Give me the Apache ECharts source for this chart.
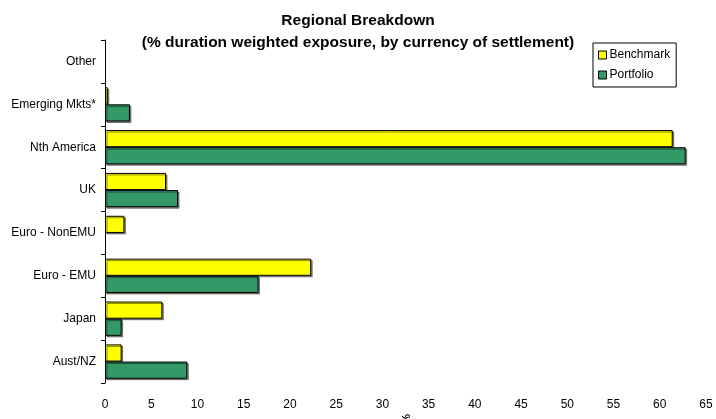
<!DOCTYPE html>
<html>
<head>
<meta charset="utf-8">
<script src="https://cdn.jsdelivr.net/npm/echarts@6/dist/echarts.min.js"></script>
<style>html,body{margin:0;padding:0;background:#fff}#c{width:716px;height:419px}</style>
</head>
<body>
<div id="c"></div>
<script>
// Categories listed top to bottom; null = no exposure (no bar drawn)
const categories = ["Other", "Emerging Mkts*", "Nth America", "UK", "Euro - NonEMU", "Euro - EMU", "Japan", "Aust/NZ"];
const benchmark = [null, 0.3, 61.4, 6.6, 2.1, 22.3, 6.2, 1.8];
const portfolio = [null, 2.7, 62.8, 7.9, null, 16.6, 1.8, 8.9];
const xTicks = { min: 0, max: 65, interval: 5 };

const chart = echarts.init(document.getElementById('c'));
const font = 'Liberation Sans, Arial, sans-serif';
const barStyle = (color) => ({
  color: color,
  borderColor: '#000',
  borderWidth: 1,
  shadowColor: 'rgba(0,0,0,0.45)',
  shadowOffsetX: 1.5,
  shadowOffsetY: 1.5,
  shadowBlur: 0
});
chart.setOption({
  animation: false,
  textStyle: { fontFamily: font },
  title: {
    text: 'Regional Breakdown\n(% duration weighted exposure, by currency of settlement)',
    left: 'center',
    top: 5,
    textStyle: { fontFamily: font, fontSize: 15.5, fontWeight: 'bold', color: '#000', lineHeight: 22 }
  },
  legend: {
    orient: 'vertical',
    left: 593,
    top: 43,
    data: ['Benchmark', 'Portfolio'],
    icon: 'rect',
    itemWidth: 8,
    itemHeight: 8,
    itemGap: 8,
    padding: [6, 6, 6, 5],
    borderColor: '#000',
    borderWidth: 1,
    backgroundColor: '#fff',
    textStyle: { fontFamily: font, fontSize: 12, color: '#000', padding: [0, 0, 0, -2] },
    itemStyle: { borderColor: '#000', borderWidth: 1 }
  },
  grid: { left: 105, right: 10, top: 40, bottom: 36, containLabel: false, outerBoundsMode: 'none' },
  xAxis: {
    type: 'value',
    min: xTicks.min,
    max: xTicks.max,
    interval: xTicks.interval,
    name: '%',
    nameLocation: 'middle',
    nameGap: 25,
    nameRotate: -90,
    nameTextStyle: { fontFamily: font, fontSize: 11, fontWeight: 'bold', color: '#000' },
    axisLine: { show: false },
    axisTick: { show: false },
    splitLine: { show: false },
    axisLabel: { fontFamily: font, fontSize: 12, color: '#000', margin: 16 }
  },
  yAxis: {
    type: 'category',
    inverse: true,
    data: categories,
    axisLine: { show: true, lineStyle: { color: '#000', width: 1 } },
    axisTick: { show: true, length: 4, lineStyle: { color: '#000' } },
    axisLabel: { fontFamily: font, fontSize: 12, color: '#000', margin: 9 }
  },
  series: [
    { name: 'Benchmark', type: 'bar', data: benchmark, barGap: '0%', barCategoryGap: '20%', itemStyle: barStyle('#FFFF00') },
    { name: 'Portfolio', type: 'bar', data: portfolio, barGap: '0%', barCategoryGap: '20%', itemStyle: barStyle('#339966') }
  ]
});
</script>
</body>
</html>
